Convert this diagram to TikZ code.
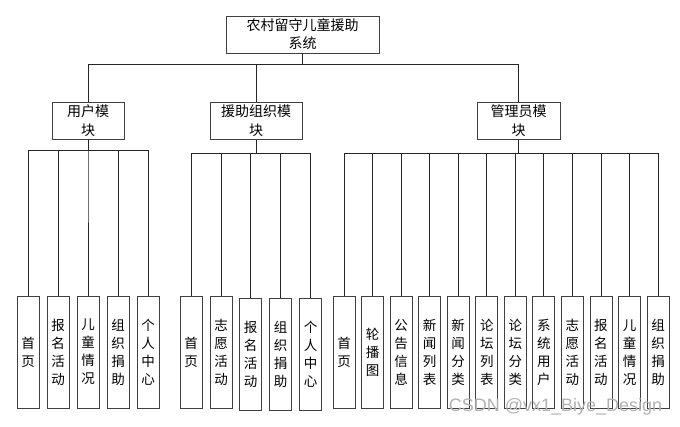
\documentclass[tikz,border=0pt]{standalone}
\usepackage{fontspec}
\setmainfont{Noto Sans CJK SC}
\newfontfamily\markfont{Liberation Sans}
\begin{document}
\begin{tikzpicture}[x=1pt,y=-1pt,
  box/.style={draw=black!75,line width=0.9pt,fill=white,inner sep=1pt,align=center},
  topbox/.style={box,minimum width=153pt,minimum height=37pt,font=\fontsize{14}{18}\selectfont},
  midbox/.style={box,minimum height=37pt,font=\fontsize{14}{19}\selectfont},
  leaf/.style={box,minimum width=22pt,minimum height=112pt,text width=16pt,font=\fontsize{13.5}{18}\selectfont},
  wire/.style={draw=black!85,line width=0.8pt}]
\useasboundingbox (0,0) rectangle (680,427);

% root
\node[topbox] (root) at (302.5,34.5) {农村留守儿童援助\\系统};

% modules
\node[midbox,minimum width=72pt] (user) at (88,120.5) {用户模\\块};
\node[midbox,minimum width=92pt] (org) at (256,121) {援助组织模\\块};
\node[midbox,minimum width=83pt] (adm) at (518.5,120.5) {管理员模\\块};

\coordinate (busT) at (0,64);
\foreach \m in {user,org,adm}
  \draw[wire] (root.south) -- (root.south |- busT) -| (\m.north);

% user module leaves
\coordinate (busU) at (0,150.7);
\foreach \t [count=\i] in {首\\页,报\\名\\活\\动,儿\\童\\情\\况,组\\织\\捐\\助,个\\人\\中\\心}{
  \node[leaf] (u\i) at ({28+30*(\i-1)},352) {\t};
  \draw[wire] (user.south) -- (user.south |- busU) -| (u\i.north);
}

% organisation module leaves
\coordinate (busO) at (0,153);
\node[leaf] (o1) at (191,352) {首\\页};
\node[leaf] (o2) at (221,352) {志\\愿\\活\\动};
\node[leaf] (o3) at (250.5,354) {报\\名\\活\\动};
\node[leaf] (o4) at (280.5,354) {组\\织\\捐\\助};
\node[leaf] (o5) at (310.5,354) {个\\人\\中\\心};
\foreach \i in {1,...,5}
  \draw[wire] (org.south) -- (org.south |- busO) -| (o\i.north);

% administrator module leaves
\coordinate (busA) at (0,153);
\foreach \t [count=\i] in {首\\页,轮\\播\\图,公\\告\\信\\息,新\\闻\\列\\表,新\\闻\\分\\类,论\\坛\\列\\表,论\\坛\\分\\类,系\\统\\用\\户,志\\愿\\活\\动,报\\名\\活\\动,儿\\童\\情\\况,组\\织\\捐\\助}{
  \node[leaf] (a\i) at ({344+28.55*(\i-1)},352.5) {\t};
  \draw[wire] (adm.south) -- (adm.south |- busA) -| (a\i.north);
}

% watermark
\node[text=black!30,font=\markfont\fontsize{18}{18}\selectfont,inner sep=0pt] (wm) at (555.5,407) {CSDN @vx1\_Biye\_Design};
\end{tikzpicture}
\end{document}
